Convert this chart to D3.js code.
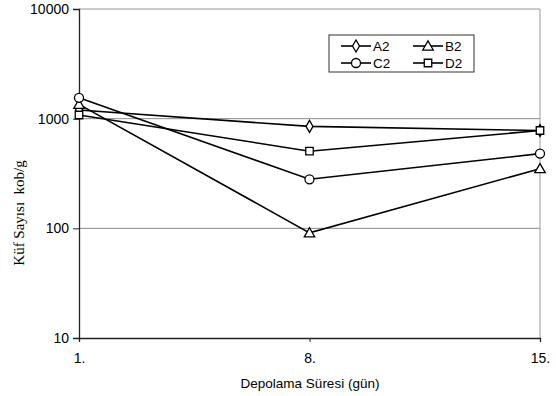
<!DOCTYPE html>
<html>
<head>
<meta charset="utf-8">
<script src="https://cdn.jsdelivr.net/npm/d3@7"></script>
<style>
  html, body { margin: 0; padding: 0; background: #fff; }
  svg { display: block; }
</style>
</head>
<body>
<svg id="chart" width="556" height="396"></svg>
<script>
// Storage days and mould counts (cfu/g) per sample
const days = ["1.", "8.", "15."];
const seriesNames = ["A2", "B2", "C2", "D2"];
const valuesA2 = [1200, 850, 780];
const valuesB2 = [1350, 91, 350];
const valuesC2 = [1550, 280, 480];
const valuesD2 = [1080, 505, 780];
const yTicks = [10, 100, 1000, 10000];
const gridValues = [100, 1000];

const series = [
  { name: "A2", values: valuesA2, symbol: "diamond" },
  { name: "B2", values: valuesB2, symbol: "triangle" },
  { name: "C2", values: valuesC2, symbol: "circle" },
  { name: "D2", values: valuesD2, symbol: "square" }
];

const svg = d3.select("#chart");
const m = { left: 79, right: 540, top: 9, bottom: 338 };

const x = d3.scalePoint().domain(days).range([m.left, m.right]);
const y = d3.scaleLog().domain([10, 10000]).range([m.bottom, m.top]);

// Horizontal gridlines
svg.append("g").selectAll("line").data(gridValues).join("line")
  .attr("x1", m.left).attr("x2", m.right)
  .attr("y1", d => y(d)).attr("y2", d => y(d))
  .attr("stroke", "#8a8a8a").attr("stroke-width", 1);

// Plot frame (top and right)
svg.append("path")
  .attr("d", `M${m.left},${m.top}H${m.right}V${m.bottom}`)
  .attr("fill", "none").attr("stroke", "#9a9a9a").attr("stroke-width", 1);

// Y axis
const yAxis = svg.append("g")
  .attr("transform", `translate(${m.left},0)`)
  .call(d3.axisLeft(y).tickValues(yTicks).tickFormat(d3.format("d")).tickSize(6).tickPadding(4));
yAxis.select(".domain").attr("stroke", "#222").attr("stroke-width", 1.3);
yAxis.selectAll(".tick line").attr("stroke", "#222");
yAxis.selectAll("text")
  .attr("font-family", "Liberation Sans, Arial, sans-serif")
  .attr("font-size", 14).attr("fill", "#000");

// X axis
const xAxis = svg.append("g")
  .attr("transform", `translate(0,${m.bottom})`)
  .call(d3.axisBottom(x).tickSize(4).tickPadding(11));
xAxis.select(".domain").attr("stroke", "#222").attr("stroke-width", 1.3);
xAxis.selectAll(".tick line").attr("stroke", "#222");
xAxis.selectAll("text")
  .attr("font-family", "Liberation Sans, Arial, sans-serif")
  .attr("font-size", 14).attr("fill", "#000");

// Axis titles
svg.append("text")
  .attr("x", 310).attr("y", 388)
  .attr("text-anchor", "middle")
  .attr("font-family", "Liberation Sans, Arial, sans-serif")
  .attr("font-size", 13.5)
  .text("Depolama Süresi (gün)");

svg.append("text")
  .attr("transform", "translate(24,213) rotate(-90)")
  .attr("text-anchor", "middle")
  .attr("font-family", "Liberation Serif, Times New Roman, serif")
  .attr("font-size", 15)
  .attr("xml:space", "preserve")
  .text("Küf Sayısı  kob/g");

// Marker shapes
const symbolMap = {
  diamond: d3.symbol().type(d3.symbolDiamond).size(42),
  triangle: d3.symbol().type(d3.symbolTriangle).size(48),
  circle: d3.symbol().type(d3.symbolCircle).size(64),
  square: d3.symbol().type(d3.symbolSquare).size(56)
};

const line = d3.line().x((d, i) => x(days[i])).y(d => y(d));

const gSeries = svg.append("g").selectAll("g").data(series).join("g");
gSeries.append("path")
  .attr("d", d => line(d.values))
  .attr("fill", "none").attr("stroke", "#000").attr("stroke-width", 1.6);
gSeries.each(function(s) {
  d3.select(this).selectAll("path.mk").data(s.values).join("path")
    .attr("class", "mk")
    .attr("transform", (d, i) => `translate(${x(days[i])},${y(d) + (s.symbol === "triangle" ? 1 : 0)})`)
    .attr("d", symbolMap[s.symbol]())
    .attr("fill", "#fff").attr("stroke", "#000").attr("stroke-width", 1.3);
});

// Legend
const legend = svg.append("g");
legend.append("rect")
  .attr("x", 329).attr("y", 35).attr("width", 145).attr("height", 37)
  .attr("fill", "#fff").attr("stroke", "#333").attr("stroke-width", 1);

const legendPos = [
  { cx: 341, cy: 46 }, { cx: 413, cy: 46 },
  { cx: 341, cy: 63 }, { cx: 413, cy: 63 }
];
series.forEach((s, i) => {
  const p = legendPos[i];
  const g = legend.append("g");
  g.append("line")
    .attr("x1", p.cx).attr("x2", p.cx + 30)
    .attr("y1", p.cy).attr("y2", p.cy)
    .attr("stroke", "#000").attr("stroke-width", 1.6);
  g.append("path")
    .attr("transform", `translate(${p.cx + 15},${p.cy + (s.symbol === "triangle" ? 1 : 0)})`)
    .attr("d", symbolMap[s.symbol]())
    .attr("fill", "#fff").attr("stroke", "#000").attr("stroke-width", 1.3);
  g.append("text")
    .attr("x", p.cx + 32).attr("y", p.cy + 5)
    .attr("font-family", "Liberation Sans, Arial, sans-serif")
    .attr("font-size", 13.5)
    .text(s.name);
});
</script>
</body>
</html>
